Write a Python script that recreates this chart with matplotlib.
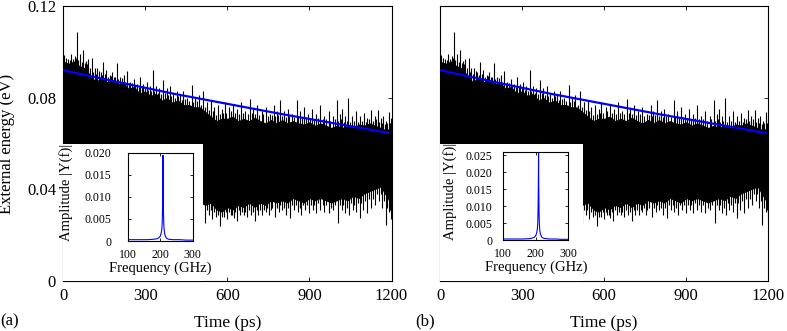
import numpy as np
import matplotlib
matplotlib.use("Agg")
import matplotlib.pyplot as plt
from matplotlib.patches import Rectangle

plt.rcParams['font.family'] = ['Liberation Serif', 'DejaVu Serif']

# ---- main signal: envelope of the dense oscillation ----
env_t = np.arange(0, 1201, 20)
upper_env = [0.096, 0.095, 0.096, 0.094, 0.093, 0.090, 0.087, 0.089, 0.087, 0.088,
             0.086, 0.087, 0.084, 0.085, 0.082, 0.083, 0.081, 0.082, 0.079, 0.080,
             0.078, 0.079, 0.077, 0.077, 0.076, 0.076, 0.074, 0.072, 0.070, 0.071,
             0.071, 0.072, 0.070, 0.071, 0.070, 0.0715, 0.070, 0.069, 0.0705, 0.069,
             0.0705, 0.069, 0.070, 0.069, 0.0685, 0.0695, 0.068, 0.069, 0.068, 0.067,
             0.068, 0.067, 0.068, 0.067, 0.0685, 0.068, 0.069, 0.068, 0.067, 0.066,
             0.067]
lower_env = [0.034] * 26 + [
             0.033, 0.034, 0.031, 0.030, 0.032, 0.031, 0.033, 0.032, 0.034, 0.032,
             0.034, 0.033, 0.035, 0.034, 0.035, 0.034, 0.036, 0.035, 0.034, 0.036,
             0.035, 0.036, 0.035, 0.034, 0.035, 0.036, 0.035, 0.037, 0.036, 0.038,
             0.039, 0.040, 0.041, 0.037, 0.033]

# tall spikes above the envelope (time ps, value eV)
up_t = [5, 18, 30, 42, 50, 62, 74, 84, 92, 105, 115, 125, 137, 146, 158, 170, 180, 190,
        197, 208, 222, 233, 246, 258, 270, 281, 292, 305, 316, 328, 340, 352, 366, 378,
        390, 402, 415, 428, 440, 452, 470, 482, 495, 512, 525, 540, 552, 565, 580, 590,
        605, 620, 635, 650, 665, 683, 695, 710, 725, 740, 755, 770, 780, 793, 808, 820,
        835, 854, 866, 880, 895, 910, 925, 940, 955, 970, 985, 1000, 1012, 1020, 1030,
        1042, 1055, 1070, 1085, 1100, 1112, 1125, 1138, 1150, 1162, 1170, 1180, 1190, 1197]
up_v = [0.0985, 0.097, 0.099, 0.098, 0.1088, 0.099, 0.1008, 0.096, 0.097, 0.0975, 0.093,
        0.093, 0.091, 0.0956, 0.092, 0.090, 0.091, 0.089, 0.095, 0.089, 0.090, 0.0915,
        0.087, 0.088, 0.086, 0.089, 0.086, 0.087, 0.085, 0.092, 0.085, 0.084, 0.0877,
        0.084, 0.085, 0.082, 0.083, 0.081, 0.083, 0.080, 0.0855, 0.080, 0.081, 0.083,
        0.078, 0.079, 0.076, 0.077, 0.075, 0.078, 0.076, 0.077, 0.075, 0.078, 0.074,
        0.0794, 0.075, 0.077, 0.074, 0.076, 0.073, 0.077, 0.074, 0.079, 0.074, 0.075,
        0.073, 0.0789, 0.074, 0.076, 0.073, 0.075, 0.073, 0.077, 0.072, 0.074, 0.072,
        0.0789, 0.073, 0.075, 0.072, 0.0798, 0.072, 0.074, 0.072, 0.0735, 0.071, 0.0746,
        0.072, 0.0746, 0.071, 0.072, 0.070, 0.0739, 0.071]
# shorter spikes in between
mid_t = [11, 24, 36, 46, 56, 68, 79, 88, 98, 110, 120, 131, 141, 152, 164, 175, 185, 202,
         215, 228, 240, 252, 264, 276, 287, 298, 310, 322, 334, 346, 359, 372, 384, 396,
         408, 421, 434, 446, 460, 476, 488, 503, 518, 532, 546, 558, 572, 585, 597, 612,
         627, 642, 657, 674, 689, 702, 717, 732, 747, 762, 775, 787, 800, 814, 827, 845,
         860, 873, 888, 902, 917, 932, 948, 962, 977, 992, 1006, 1016, 1025, 1036, 1048,
         1062, 1077, 1092, 1106, 1118, 1131, 1144, 1156, 1166, 1175, 1185, 1194]
mid_v = [0.0975, 0.0965, 0.097, 0.0975, 0.0965, 0.0955, 0.095, 0.0945, 0.093, 0.091,
         0.0905, 0.0915, 0.090, 0.0905, 0.089, 0.0895, 0.089, 0.088, 0.0885, 0.087,
         0.0865, 0.0865, 0.0855, 0.0845, 0.085, 0.084, 0.0835, 0.083, 0.083, 0.082,
         0.0815, 0.082, 0.081, 0.0805, 0.080, 0.0805, 0.079, 0.0795, 0.0785, 0.078,
         0.0785, 0.077, 0.076, 0.0745, 0.074, 0.0725, 0.073, 0.0735, 0.0735, 0.074,
         0.0735, 0.073, 0.0735, 0.073, 0.0735, 0.073, 0.0725, 0.073, 0.072, 0.0725,
         0.072, 0.0725, 0.072, 0.0715, 0.072, 0.0715, 0.072, 0.071, 0.0715, 0.071,
         0.0705, 0.071, 0.0705, 0.0705, 0.070, 0.0705, 0.070, 0.0705, 0.0695, 0.070,
         0.0695, 0.070, 0.0695, 0.070, 0.0695, 0.0705, 0.070, 0.0705, 0.0695, 0.069,
         0.0685, 0.069, 0.069]

# spikes below the lower envelope
dn_t = [519, 532, 545, 560, 574, 588, 600, 612, 623, 634, 648, 660, 672, 686, 701, 714,
        727, 740, 752, 774, 788, 800, 815, 829, 843, 857, 871, 885, 898, 912, 925, 940,
        955, 970, 985, 1005, 1018, 1030, 1045, 1058, 1070, 1084, 1097, 1110, 1125, 1140,
        1155, 1166, 1178, 1190, 1198,
        526, 539, 553, 567, 581, 594, 606, 618, 629, 641, 654, 666, 679, 694, 708, 721,
        734, 746, 758, 765, 781, 794, 808, 822, 836, 850, 864, 878, 892, 905, 918, 932,
        948, 962, 978, 995, 1012, 1024, 1038, 1052, 1064, 1077, 1090, 1104, 1117, 1132,
        1147, 1160, 1172, 1184, 1194]
dn_v = [0.0253, 0.029, 0.027, 0.028, 0.0239, 0.028, 0.027, 0.029, 0.0275, 0.026, 0.029,
        0.0288, 0.028, 0.029, 0.026, 0.029, 0.0288, 0.030, 0.029, 0.0281, 0.030, 0.031,
        0.029, 0.0273, 0.031, 0.030, 0.0288, 0.031, 0.0295, 0.031, 0.0295, 0.031, 0.030,
        0.0295, 0.031, 0.0253, 0.031, 0.0295, 0.0288, 0.031, 0.030, 0.0273, 0.031,
        0.0295, 0.032, 0.033, 0.035, 0.032, 0.0244, 0.030, 0.027,
        0.031, 0.031, 0.030, 0.029, 0.028, 0.030, 0.030, 0.029, 0.030, 0.031, 0.030,
        0.030, 0.031, 0.030, 0.031, 0.031, 0.031, 0.032, 0.031, 0.032, 0.032, 0.033,
        0.032, 0.032, 0.033, 0.033, 0.032, 0.033, 0.033, 0.033, 0.033, 0.034, 0.033,
        0.033, 0.032, 0.033, 0.033, 0.033, 0.032, 0.034, 0.033, 0.034, 0.034, 0.035,
        0.036, 0.036, 0.038, 0.038, 0.035, 0.032, 0.031]

# decay fit (blue)
fit_t = [0, 200, 400, 600, 800, 1000, 1190]
fit_v = [0.0920, 0.0868, 0.0818, 0.0773, 0.0728, 0.0686, 0.0646]

# ---- inset spectra ----
freq = [100, 120, 140, 160, 180, 190, 195, 200, 203, 205, 206, 207, 208, 208.5,
        209, 210, 211, 212, 214, 217, 220, 225, 240, 260, 280, 300]
amp_a = [0.0003, 0.0003, 0.0003, 0.0003, 0.0004, 0.0005, 0.0007, 0.0011, 0.0018, 0.0028,
         0.0040, 0.0068, 0.0135, 0.0194, 0.0135, 0.0065, 0.0038, 0.0026, 0.0015, 0.0009,
         0.0006, 0.0004, 0.0003, 0.0003, 0.0002, 0.0002]
amp_b = [0.0003, 0.0003, 0.0003, 0.0003, 0.0004, 0.0006, 0.0008, 0.0013, 0.0022, 0.0035,
         0.0050, 0.0088, 0.0175, 0.0262, 0.0175, 0.0085, 0.0048, 0.0032, 0.0018, 0.0011,
         0.0007, 0.0005, 0.0003, 0.0003, 0.0002, 0.0002]

fig = plt.figure(figsize=(7.87, 3.31), dpi=100)


def style(ax):
    ax.tick_params(direction='in', top=True, right=True, length=3, width=0.6)
    for s in ax.spines.values():
        s.set_linewidth(0.8)


def main_panel(rect, show_y):
    ax = fig.add_axes(rect)
    ax.fill_between(env_t, lower_env, upper_env, color='black', lw=0, zorder=1)
    ax.vlines(up_t, 0.05, up_v, color='black', lw=0.8, zorder=1)
    ax.vlines(mid_t, 0.05, mid_v, color='black', lw=0.8, zorder=1)
    ax.vlines(dn_t, dn_v, 0.05, color='black', lw=0.8, zorder=1)
    ax.plot(fit_t, fit_v, color='#0000ff', lw=1.6, zorder=4)
    ax.set_xlim(0, 1200)
    ax.set_ylim(0, 0.12)
    ax.set_xticks([0, 300, 600, 900, 1200])
    ax.set_yticks([0, 0.04, 0.08, 0.12])
    if show_y:
        ax.set_yticklabels(['0', '0.04', '0.08', '0.12'])
        ax.set_ylabel('External energy (eV)', fontsize=12)
        ax.yaxis.set_label_coords(-0.146, 0.5)
    else:
        ax.set_yticklabels([])
    ax.set_xlabel('Time (ps)', fontsize=12.5, labelpad=8)
    ax.tick_params(labelsize=12, pad=5)
    style(ax)
    return ax


def inset(parent, box_w, rect, amp, ymax, yt, ytl, ypad, ylab_x):
    parent.add_patch(Rectangle((0, 0), box_w, 0.498, transform=parent.transAxes,
                               facecolor='white', edgecolor='none', zorder=3))
    ia = fig.add_axes(rect)
    ia.plot(freq, amp, color='#0000ff', lw=0.8)
    ia.set_xlim(100, 300)
    ia.set_ylim(0, ymax)
    ia.set_xticks([100, 200, 300])
    ia.set_yticks(yt)
    ia.set_yticklabels(ytl)
    style(ia)
    ia.tick_params(length=2, labelsize=8.5)
    ia.tick_params(axis='x', pad=6)
    ia.tick_params(axis='y', pad=ypad)
    ia.set_xlabel('Frequency (GHz)', fontsize=10.5, labelpad=0)
    ia.set_ylabel('Amplitude |Y(f)|', fontsize=10.5)
    ia.yaxis.set_label_coords(ylab_x, 0.55)


ax_a = main_panel([0.0801, 0.151, 0.4174, 0.831], True)
ax_b = main_panel([0.5591, 0.151, 0.4172, 0.831], False)

inset(ax_a, 0.426, [0.1623, 0.2719, 0.0826, 0.2668], amp_a, 0.020,
      [0, 0.005, 0.010, 0.015, 0.020], ['0', '0.005', '0.010', '0.015', '0.020'],
      12, -0.84)
inset(ax_b, 0.4356, [0.6395, 0.2749, 0.0826, 0.2668], amp_b, 0.026,
      [0, 0.005, 0.010, 0.015, 0.020, 0.025],
      ['0', '0.005', '0.010', '0.015', '0.020', '0.025'], 8, -0.71)

fig.text(0.0, 0.03, '(a)', fontsize=12, ha='left', va='center')
fig.text(0.528, 0.03, '(b)', fontsize=12, ha='left', va='center')

fig.savefig('out.png', dpi=100)
